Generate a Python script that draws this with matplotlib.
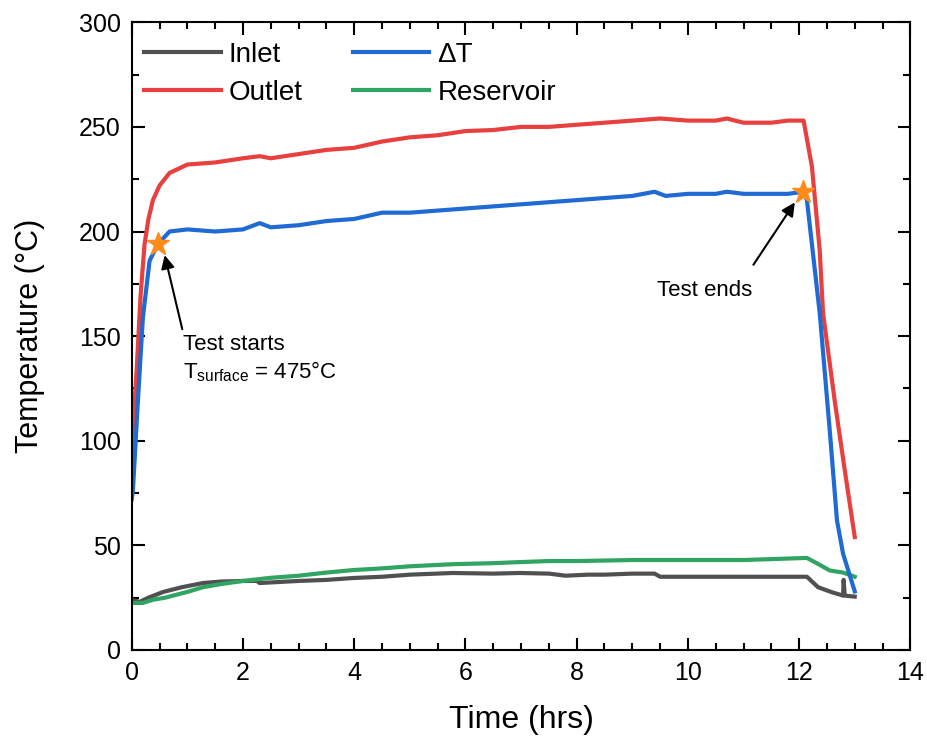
import matplotlib.pyplot as plt
from matplotlib.ticker import MultipleLocator

plt.rcParams['font.family'] = ['Liberation Sans', 'DejaVu Sans']

# Outlet
t_out = [0.0, 0.02, 0.09, 0.16, 0.23, 0.3, 0.38, 0.5, 0.68, 1.0, 1.5, 2.0, 2.3, 2.5, 3.0, 3.5, 4.0, 4.5,
         5.0, 5.5, 6.0, 6.5, 7.0, 7.5, 8.0, 8.5, 9.0, 9.5, 10.0, 10.5, 10.7, 11.0, 11.5, 11.8, 12.08,
         12.23, 12.37, 12.43, 12.64, 12.82, 13.0]
v_out = [95, 104, 135, 170, 194, 206, 215, 222, 228, 232, 233, 235, 236, 235, 237, 239, 240, 243,
         245, 246, 248, 248.5, 250, 250, 251, 252, 253, 254, 253, 253, 254, 252, 252, 253, 253,
         231, 191, 161, 119, 86, 54]
# Delta T
t_dt = [0.0, 0.02, 0.11, 0.2, 0.32, 0.47, 0.68, 1.0, 1.5, 2.0, 2.3, 2.5, 3.0, 3.5, 4.0, 4.5,
        5.0, 5.5, 6.0, 6.5, 7.0, 7.5, 8.0, 8.5, 9.0, 9.4, 9.6, 10.0, 10.5, 10.7, 11.0, 11.5, 11.8, 12.07,
        12.14, 12.37, 12.55, 12.68, 12.79, 13.0]
v_dt = [72, 76, 119, 159, 186, 194, 200, 201, 200, 201, 204, 202, 203, 205, 206, 209,
        209, 210, 211, 212, 213, 214, 215, 216, 217, 219, 217, 218, 218, 219, 218, 218, 218, 219,
        215, 161, 105, 62, 46, 28]
# Inlet
t_in = [0.0, 0.14, 0.3, 0.56, 0.9, 1.28, 1.6, 2.0, 2.25, 2.3, 3.0, 3.5, 3.98, 4.5, 5.0, 5.77, 6.5,
        6.97, 7.5, 7.8, 8.2, 8.5, 9.0, 9.4, 9.5, 10.0, 11.0, 12.14, 12.34, 12.6, 12.79, 12.8, 12.82, 13.0]
v_in = [24, 23, 25, 27.7, 30, 32, 32.7, 33, 33, 32, 33, 33.5, 34.4, 35, 36, 36.8, 36.5,
        36.8, 36.5, 35.5, 36, 36, 36.5, 36.5, 35, 35, 35, 35, 30, 27.5, 26, 33.5, 26, 25.5]
# Reservoir
t_res = [0.0, 0.2, 0.38, 0.6, 0.99, 1.28, 1.6, 2.0, 2.5, 3.0, 3.5, 3.98, 4.5, 5.0, 5.77, 6.5,
         6.97, 7.5, 8.0, 9.0, 10.0, 11.0, 12.14, 12.35, 12.55, 12.79, 13.0]
v_res = [22.5, 22.5, 24, 25, 27.7, 30, 31.5, 33, 34.5, 35.5, 37, 38.2, 39, 40, 41, 41.5,
         42, 42.5, 42.5, 43, 43, 43, 44, 41, 38, 37, 35]

star_t = [0.47, 12.07]
star_v = [194, 219]

fig = plt.figure(figsize=(9.28, 7.42), dpi=100)
ax = fig.add_axes([0.142, 0.124, 0.839, 0.846])

lw = 3
ax.plot(t_in, v_in, color='#505050', lw=lw, label='Inlet')
ax.plot(t_out, v_out, color='#e8403f', lw=lw, label='Outlet')
ax.plot(t_res, v_res, color='#2fa463', lw=lw, label='Reservoir')
ax.plot(t_dt, v_dt, color='#1f6ad3', lw=lw, label='ΔT')
ax.plot(star_t, star_v, linestyle='none', marker='*', markersize=17, color='#ff8c1a', zorder=5)

ax.set_xlim(0, 14)
ax.set_ylim(0, 300)
ax.xaxis.set_major_locator(MultipleLocator(2))
ax.xaxis.set_minor_locator(MultipleLocator(0.5))
ax.yaxis.set_major_locator(MultipleLocator(50))
ax.yaxis.set_minor_locator(MultipleLocator(25))
ax.tick_params(which='both', direction='in', top=True, right=True, width=1.5)
ax.tick_params(which='major', length=9, labelsize=18, pad=8)
ax.tick_params(which='minor', length=5)
for s in ax.spines.values():
    s.set_linewidth(1.5)

ax.set_xlabel('Time (hrs)', fontsize=23, labelpad=14)
ax.set_ylabel('Temperature (°C)', fontsize=22, labelpad=24)

ax.annotate('', xy=(0.58, 190), xytext=(0.92, 152),
            arrowprops=dict(arrowstyle='-|>', color='black', lw=1.5, mutation_scale=20))
ax.text(0.92, 146, 'Test starts', fontsize=16, va='center', ha='left')
ax.text(0.92, 133, 'T$_{\\mathregular{surface}}$ = 475°C', fontsize=16, va='center', ha='left')

ax.annotate('', xy=(11.95, 215), xytext=(11.15, 183),
            arrowprops=dict(arrowstyle='-|>', color='black', lw=1.5, mutation_scale=20))
ax.text(9.45, 172, 'Test ends', fontsize=16, va='center', ha='left')

h, l = ax.get_legend_handles_labels()
order = [0, 1, 3, 2]
ax.legend([h[i] for i in order], [l[i] for i in order], ncol=2, loc='upper left',
          bbox_to_anchor=(-0.009, 1.0),
          frameon=False, fontsize=20, handlelength=2.75, columnspacing=1.8,
          labelspacing=0.45, borderaxespad=0.4, borderpad=0.3, handletextpad=0.3)

fig.savefig('out.png', dpi=100)
